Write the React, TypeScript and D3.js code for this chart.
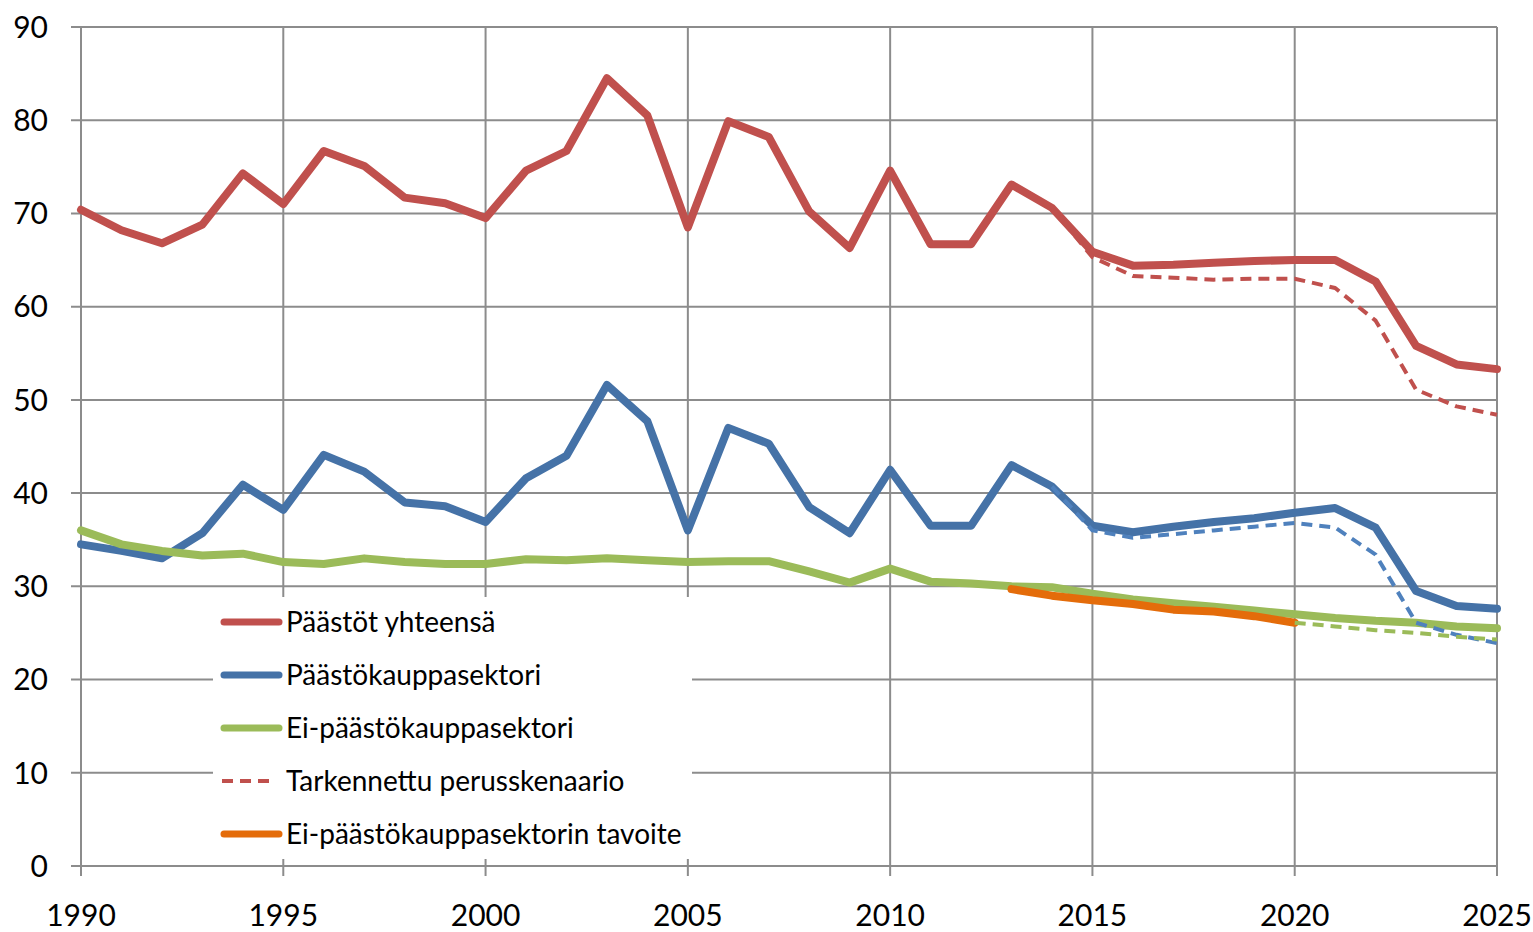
import { scaleLinear, line, range } from 'd3';

const years = range(1990, 2026);

// Päästöt yhteensä
const totalValues = [
  70.4, 68.2, 66.8, 68.8, 74.3, 71.0, 76.7, 75.1, 71.7, 71.1,
  69.5, 74.6, 76.7, 84.5, 80.5, 68.5, 79.9, 78.2, 70.2, 66.3,
  74.6, 66.7, 66.7, 73.1, 70.6, 65.9, 64.4, 64.5, 64.7, 64.9,
  65.0, 65.0, 62.7, 55.8, 53.8, 53.3,
];

// Päästökauppasektori
const etsValues = [
  34.5, 33.8, 33.0, 35.7, 40.9, 38.2, 44.1, 42.3, 39.0, 38.6,
  36.9, 41.6, 44.0, 51.6, 47.7, 36.0, 47.0, 45.3, 38.5, 35.7,
  42.5, 36.5, 36.5, 43.0, 40.7, 36.5, 35.8, 36.4, 36.9, 37.3,
  37.9, 38.4, 36.3, 29.5, 27.9, 27.6,
];

// Ei-päästökauppasektori
const nonEtsValues = [
  36.0, 34.5, 33.8, 33.3, 33.5, 32.6, 32.4, 33.0, 32.6, 32.4,
  32.4, 32.9, 32.8, 33.0, 32.8, 32.6, 32.7, 32.7, 31.6, 30.4,
  31.9, 30.5, 30.3, 30.0, 29.9, 29.2, 28.6, 28.2, 27.8, 27.4,
  27.0, 26.6, 26.3, 26.1, 25.7, 25.5,
];

// Tarkennettu perusskenaario (2014-2025)
const scenarioYears = range(2014, 2026);
const scenarioTotal = [70.6, 65.3, 63.3, 63.1, 62.9, 63.0, 63.0, 62.0, 58.5, 51.1, 49.3, 48.4];
const scenarioEts = [40.7, 36.0, 35.2, 35.6, 36.0, 36.4, 36.8, 36.3, 33.4, 26.1, 24.8, 23.9];
const scenarioNonEtsYears = range(2020, 2026);
const scenarioNonEts = [26.1, 25.7, 25.3, 25.0, 24.6, 24.3];

// Ei-päästökauppasektorin tavoite (2013-2020)
const targetYears = range(2013, 2021);
const targetValues = [29.7, 29.0, 28.5, 28.1, 27.5, 27.3, 26.8, 26.1];

const yTicks = [0, 10, 20, 30, 40, 50, 60, 70, 80, 90];
const xTicks = [1990, 1995, 2000, 2005, 2010, 2015, 2020, 2025];

const legendItems = [
  { label: 'Päästöt yhteensä', color: '#C0504D', dash: false },
  { label: 'Päästökauppasektori', color: '#4572A7', dash: false },
  { label: 'Ei-päästökauppasektori', color: '#9BBB59', dash: false },
  { label: 'Tarkennettu perusskenaario', color: '#C0504D', dash: true },
  { label: 'Ei-päästökauppasektorin tavoite', color: '#E46C0A', dash: false },
];

const font = 'Lato, "Open Sans", sans-serif';

const App = () => {
  const x = scaleLinear().domain([1990, 2025]).range([81, 1497]);
  const y = scaleLinear().domain([0, 90]).range([866, 27]);

  const mk = (yrs: number[]) =>
    line<number>()
      .x((_, i) => x(yrs[i]))
      .y((d) => y(d));

  const solid = (vals: number[], yrs: number[], color: string) => (
    <path d={mk(yrs)(vals) || ''} fill="none" stroke={color} strokeWidth={8} strokeLinejoin="round" strokeLinecap="round" />
  );
  const dashed = (vals: number[], yrs: number[], color: string) => (
    <path d={mk(yrs)(vals) || ''} fill="none" stroke={color} strokeWidth={4} strokeDasharray="11 7" strokeLinejoin="round" />
  );

  const gridColor = '#8c8c8c';

  return (
    <svg width={1533} height={932} style={{ position: 'absolute', left: 0, top: 0, background: '#fff' }}>
      {/* horizontal gridlines */}
      {yTicks.map((t) => (
        <line key={'h' + t} x1={71} x2={1497} y1={y(t)} y2={y(t)} stroke={gridColor} strokeWidth={2} />
      ))}
      {/* vertical gridlines */}
      {xTicks.map((t) => (
        <line key={'v' + t} x1={x(t)} x2={x(t)} y1={y(90)} y2={876} stroke={gridColor} strokeWidth={2} />
      ))}
      {yTicks.map((t) => (
        <text key={'yl' + t} x={48} y={y(t)} dy="0.36em" textAnchor="end" fontFamily={font} fontSize={30} fill="#000">
          {t}
        </text>
      ))}
      {xTicks.map((t) => (
        <text key={'xl' + t} x={x(t)} y={926} textAnchor="middle" fontFamily={font} fontSize={30} fill="#000">
          {t}
        </text>
      ))}

      {solid(totalValues, years, '#C0504D')}
      {solid(etsValues, years, '#4572A7')}
      {solid(nonEtsValues, years, '#9BBB59')}
      {solid(targetValues, targetYears, '#E46C0A')}
      {dashed(scenarioTotal, scenarioYears, '#C0504D')}
      {dashed(scenarioEts, scenarioYears, '#4F81BD')}
      {dashed(scenarioNonEts, scenarioNonEtsYears, '#9BBB59')}

      {/* legend */}
      <rect x={213} y={597} width={479} height={262} fill="#fff" />
      {legendItems.map((it, i) => {
        const ly = 622 + i * 53;
        return (
          <g key={it.label}>
            <line
              x1={it.dash ? 222 : 224}
              x2={it.dash ? 274 : 279}
              y1={ly}
              y2={ly}
              stroke={it.color}
              strokeWidth={it.dash ? 4 : 7}
              strokeLinecap={it.dash ? 'butt' : 'round'}
              strokeDasharray={it.dash ? '11 7' : undefined}
            />
            <text x={286} y={ly} dy="0.36em" fontFamily={font} fontSize={28} fill="#000">
              {it.label}
            </text>
          </g>
        );
      })}
    </svg>
  );
};

export default App;
